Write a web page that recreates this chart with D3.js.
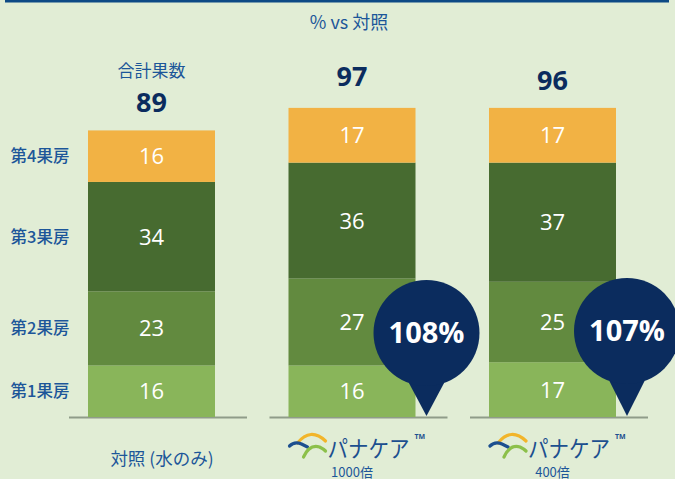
<!DOCTYPE html>
<html>
<head>
<meta charset="utf-8">
<script src="https://cdn.jsdelivr.net/npm/d3@7"></script>
<style>
  body { margin: 0; background: #e1edd5; }
  svg { display: block; font-family: "Open Sans", "Noto Sans CJK JP", sans-serif; }
</style>
</head>
<body>
<svg id="mainsvg" width="675" height="479"></svg>
<script>
const groups = ['control', 'x1000', 'x400'];
const layers = ['第1果房', '第2果房', '第3果房', '第4果房'];
const layer1 = [16, 16, 17];
const layer2 = [23, 27, 25];
const layer3 = [34, 36, 37];
const layer4 = [16, 17, 17];
const totals = [89, 97, 96];
const pctVsControl = [null, '108%', '107%'];
const dilutions = [null, '1000倍', '400倍'];

const svg = d3.select('#mainsvg');
const width = +svg.attr('width');
const height = +svg.attr('height');
const colors = ['#89b55a', '#628a3f', '#476b30', '#f2b244'];
const blue = '#1c5699';
const navy = '#0b2c5e';
const jp = '"Noto Sans CJK JP", sans-serif';

svg.append('rect').attr('width', width).attr('height', height).attr('fill', '#e1edd5');
svg.append('rect').attr('x', 5).attr('y', 0).attr('width', 664).attr('height', 2.5).attr('fill', '#0d4a85');

const x = d3.scaleBand().domain(groups).range([51.25, 652.75])
  .paddingInner(0.3666).paddingOuter(0.1833);
const y = d3.scaleLinear().domain([0, 100]).range([417, 95]);

const rows = groups.map((g, i) => ({ g, vals: [layer1[i], layer2[i], layer3[i], layer4[i]] }));
const stack = d3.stack().keys([0, 1, 2, 3]).value((d, k) => d.vals[k])(rows);

const g = svg.append('g');

// baselines
g.selectAll('.base').data(groups).join('line')
  .attr('x1', d => x(d) - 19).attr('x2', d => x(d) + x.bandwidth() + 32)
  .attr('y1', y(0) + 0.5).attr('y2', y(0) + 0.5)
  .attr('stroke', '#8f9c89').attr('stroke-width', 2);

stack.forEach((s, k) => {
  g.selectAll('.seg' + k).data(s).join('rect')
    .attr('x', d => x(d.data.g)).attr('width', x.bandwidth())
    .attr('y', d => y(d[1])).attr('height', d => y(d[0]) - y(d[1]))
    .attr('fill', colors[k]);
  g.selectAll('.lab' + k).data(s).join('text')
    .attr('x', d => x(d.data.g) + x.bandwidth() / 2)
    .attr('y', d => (y(d[0]) + y(d[1])) / 2)
    .attr('dy', '0.36em').attr('text-anchor', 'middle')
    .attr('fill', '#fff').attr('font-size', 22)
    .text(d => d.data.vals[k]);
});

// layer labels on the left, at the control bar's segments
g.selectAll('.layer').data(stack).join('text')
  .attr('x', 40).attr('y', d => (y(d[0][0]) + y(d[0][1])) / 2)
  .attr('dy', '0.36em').attr('text-anchor', 'middle')
  .attr('fill', blue).attr('font-size', 16.5).attr('font-weight', 500)
  .attr('font-family', jp)
  .text((d, i) => layers[i]);

// totals
g.selectAll('.total').data(totals).join('text')
  .attr('x', (d, i) => x(groups[i]) + x.bandwidth() / 2)
  .attr('y', d => y(d) - 28).attr('dy', '0.36em')
  .attr('text-anchor', 'middle').attr('fill', navy)
  .attr('font-size', 27).attr('font-weight', 700)
  .text(d => d);

g.append('text')
  .attr('x', x(groups[0]) + x.bandwidth() / 2).attr('y', y(totals[0]) - 60).attr('dy', '0.36em')
  .attr('text-anchor', 'middle').attr('fill', blue).attr('font-size', 17)
  .attr('font-family', jp)
  .text('合計果数');

g.append('text')
  .attr('x', 349).attr('y', 23).attr('dy', '0.36em')
  .attr('text-anchor', 'middle').attr('fill', blue).attr('font-size', 18)
  .attr('font-family', jp)
  .text('% vs 対照');

// bubbles
const r = 53;
pctVsControl.forEach((p, i) => {
  if (!p) return;
  const tipX = x(groups[i]) + x.bandwidth() + 11;
  const cy = i === 1 ? 333 : 331;
  const ty = y(0) - 1;
  const by = cy + 50, bx = Math.sqrt(r * r - 50 * 50);
  const b = g.append('g');
  b.append('path')
    .attr('d', `M${tipX - bx},${by} L${tipX},${ty} L${tipX + bx},${by} Z`)
    .attr('fill', navy);
  b.append('circle').attr('cx', tipX).attr('cy', cy).attr('r', r).attr('fill', navy);
  b.append('text').attr('x', tipX).attr('y', cy).attr('dy', '0.36em')
    .attr('text-anchor', 'middle').attr('fill', '#fff')
    .attr('font-size', 29).attr('font-weight', 700).text(p);
});

// x labels
g.append('text')
  .attr('x', 162).attr('y', 459).attr('dy', '0.36em')
  .attr('text-anchor', 'middle').attr('fill', blue).attr('font-size', 17.5)
  .attr('font-family', jp)
  .text('対照 (水のみ)');

const logo = (x0, y0) => {
  const l = g.append('g').attr('transform', `translate(${x0},${y0})`);
  l.append('path').attr('d', 'M9,10 Q22,-6 37,8').attr('fill', 'none')
    .attr('stroke', '#f2b52a').attr('stroke-width', 3.2).attr('stroke-linecap', 'round');
  l.append('path').attr('d', 'M1,13 Q6,8 13,11 L19,14').attr('fill', 'none')
    .attr('stroke', '#1c4f8f').attr('stroke-width', 3.2).attr('stroke-linecap', 'round');
  l.append('path').attr('d', 'M15,24 Q21,11 31,14 Q35,16 37,18').attr('fill', 'none')
    .attr('stroke', '#8cc04a').attr('stroke-width', 3.2).attr('stroke-linecap', 'round');
  l.append('text').attr('x', 39).attr('y', 24)
    .attr('fill', '#1c4f8f').attr('font-size', 23).attr('font-weight', 400)
    .attr('font-family', jp)
    .attr('textLength', 82).attr('lengthAdjust', 'spacingAndGlyphs').text('パナケア');
  l.append('text').attr('x', 126).attr('y', 6)
    .attr('fill', '#1c4f8f').attr('font-size', 7).attr('font-weight', 700).text('TM');
};

dilutions.forEach((d, i) => {
  if (!d) return;
  const cx = x(groups[i]) + x.bandwidth() / 2;
  logo(x(groups[i]), 433);
  g.append('text').attr('x', cx).attr('y', 477)
    .attr('text-anchor', 'middle').attr('fill', blue).attr('font-size', 13)
    .attr('font-family', jp)
    .text(d);
});
</script>
</body>
</html>
